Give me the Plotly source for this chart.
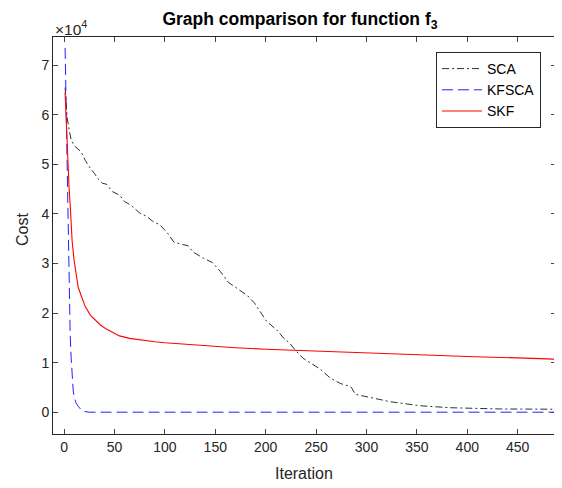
import plotly.graph_objects as go

sca_x = [1, 2, 3, 5, 7, 10, 14, 17, 21, 25, 30, 34, 38, 42, 48, 55, 60, 66, 75, 82, 88, 95, 102,
         109, 118, 123, 128, 138, 147, 155, 163, 172, 182, 189, 196, 201, 211, 218, 224, 229, 237,
         247, 254, 264, 274, 282, 285, 289, 304, 324, 353, 383, 433, 488]
sca_y = [65500, 62000, 59500, 57000, 55000, 53800, 53000, 52500, 50800, 49500, 48200, 47000, 46200,
         46000, 44500, 43800, 42500, 41800, 40200, 39500, 38500, 37800, 36300, 34300, 33800, 33600,
         32300, 31100, 30200, 28400, 26200, 24900, 23500, 22000, 19800, 18300, 16600, 14900, 13900,
         12600, 10900, 9500, 8700, 6900, 5800, 5300, 5000, 3600, 3000, 2100, 1300, 900, 650, 600]

kf_x = [1, 2, 3, 4, 5, 6, 7, 8, 9, 10, 12, 14, 17, 20, 25, 488]
kf_y = [73500, 61000, 48000, 36000, 25000, 16000, 11000, 7000, 4500, 3000, 1800, 1200, 450, 150, 0, 0]

skf_x = [1, 2, 3, 4, 5, 6, 8, 10, 12, 14, 17, 21, 26, 31, 36, 41, 48, 55, 65, 77, 90, 100, 120,
         135, 150, 170, 200, 234, 270, 300, 350, 400, 450, 488]
skf_y = [64500, 59000, 54000, 49000, 45000, 42000, 34500, 30500, 27500, 25200, 23500, 21300,
         19600, 18500, 17600, 16900, 16100, 15400, 14900, 14500, 14200, 14000, 13700,
         13450, 13250, 13000, 12700, 12450, 12150, 11900, 11550, 11250, 10950, 10700]

ytick_vals = [0, 10000, 20000, 30000, 40000, 50000, 60000, 70000]
ytick_text = ["0", "1", "2", "3", "4", "5", "6", "7"]
xtick_vals = [0, 50, 100, 150, 200, 250, 300, 350, 400, 450]

fig = go.Figure()
fig.add_trace(go.Scatter(x=sca_x, y=sca_y, mode="lines", name="SCA",
                         line=dict(color="#303030", width=1, dash="7px,3px,2px,3px")))
fig.add_trace(go.Scatter(x=kf_x, y=kf_y, mode="lines", name="KFSCA",
                         line=dict(color="#2020ff", width=1, dash="11px,5px")))
fig.add_trace(go.Scatter(x=skf_x, y=skf_y, mode="lines", name="SKF",
                         line=dict(color="#ff0000", width=1.1)))

font_family = "Liberation Sans, Arial, sans-serif"
OFF = 8  # default page body margin
W, H = 562 - OFF, 488 - OFF
L, R, T, B = 53 - OFF, 6, 37 - OFF, 54


def px_x(x):
    return (x - OFF - L) / (W - L - R)


def px_y(y):
    return (H - B - (y - OFF)) / (H - T - B)


fig.update_layout(
    width=W, height=H,
    margin=dict(l=L, r=R, t=T, b=B, autoexpand=False),
    paper_bgcolor="white", plot_bgcolor="white",
    font=dict(family=font_family, color="#262626", size=14),
    title=dict(text="<b>Graph comparison for function f<sub>3</sub></b>",
               x=(300 - OFF) / W, xanchor="center", y=1 - 5 / H, yanchor="top",
               font=dict(size=17.5, color="#000000")),
    xaxis=dict(range=[-11, 488], tickvals=xtick_vals, ticks="inside", ticklen=5,
               showline=True, linecolor="#262626", linewidth=1, mirror="ticks",
               showgrid=False, zeroline=False, tickfont=dict(size=14),
               automargin=False),
    yaxis=dict(range=[-4400, 75700], tickvals=ytick_vals, ticktext=ytick_text,
               ticks="inside", ticklen=5,
               showline=True, linecolor="#262626", linewidth=1, mirror="ticks",
               showgrid=False, zeroline=False, tickfont=dict(size=14),
               automargin=False),
    legend=dict(x=px_x(541), y=px_y(52),
                xanchor="right", yanchor="top",
                bordercolor="#262626", borderwidth=1, bgcolor="white",
                font=dict(size=14, color="#000000"), tracegroupgap=0,
                itemwidth=40),
    showlegend=True,
)
fig.add_annotation(text="×10<sup>4</sup>", xref="paper", yref="paper",
                   x=0.0, y=1.0, xanchor="left", yanchor="bottom", showarrow=False,
                   font=dict(size=15.5, color="#262626"), yshift=-3)
fig.add_annotation(text="Cost", xref="paper", yref="paper",
                   x=px_x(22), y=px_y(230),
                   xanchor="center", yanchor="middle", textangle=-90, showarrow=False,
                   font=dict(size=16, color="#262626"))
fig.add_annotation(text="Iteration", xref="paper", yref="paper",
                   x=px_x(304), y=px_y(473),
                   xanchor="center", yanchor="middle", showarrow=False,
                   font=dict(size=16, color="#262626"))

fig.write_html("out.html")
